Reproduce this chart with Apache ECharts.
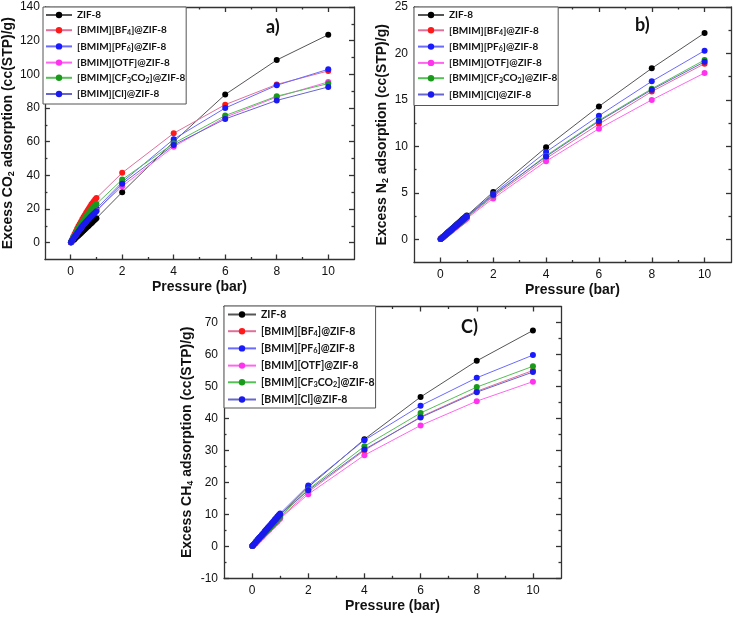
<!DOCTYPE html>
<html><head><meta charset="utf-8">
<script src="https://cdn.jsdelivr.net/npm/echarts@6/dist/echarts.min.js"></script>
<style>html,body{margin:0;padding:0;background:#fff}#c{width:734px;height:620px}</style>
</head><body><div id="c"></div>
<script>
// ---------- data ----------
const pressure = [0.01, 0.05, 0.1, 0.15, 0.2, 0.25, 0.3, 0.35, 0.4, 0.45, 0.5, 0.55, 0.6, 0.65, 0.7, 0.75, 0.8, 0.85, 0.9, 0.95, 1, 2, 4, 6, 8, 10];
const seriesNames = ['ZIF-8', '[BMIM][BF4]@ZIF-8', '[BMIM][PF6]@ZIF-8', '[BMIM][OTF]@ZIF-8', '[BMIM][CF3CO2]@ZIF-8', '[BMIM][Cl]@ZIF-8'];

// CO2
const co2ZIF8   = [0.15, 0.7, 1.4, 2.1, 2.9, 3.6, 4.3, 5.0, 5.8, 6.5, 7.2, 8.0, 8.7, 9.4, 10.1, 10.9, 11.6, 12.3, 13.1, 13.8, 14.5, 30, 60, 88, 108.5, 123.5];
const co2BF4    = [0.4, 1.8, 3.5, 5.1, 6.7, 8.2, 9.7, 11.1, 12.5, 13.9, 15.2, 16.5, 17.8, 19.0, 20.2, 21.4, 22.6, 23.6, 24.6, 25.6, 26.5, 41.5, 65, 82, 94, 102];
const co2PF6    = [0.3, 1.3, 2.6, 3.8, 5.0, 6.1, 7.2, 8.3, 9.4, 10.4, 11.4, 12.4, 13.4, 14.4, 15.3, 16.2, 17.1, 17.9, 18.7, 19.4, 20.1, 36, 61.5, 80, 93.5, 103];
const co2OTF    = [0.3, 1.2, 2.4, 3.6, 4.7, 5.8, 6.9, 7.9, 8.9, 9.9, 10.9, 11.8, 12.7, 13.6, 14.5, 15.4, 16.2, 17.0, 17.7, 18.4, 19.1, 33.5, 57, 74.5, 86.5, 95.5];
const co2CF3CO2 = [0.35, 1.5, 3.0, 4.4, 5.8, 7.1, 8.4, 9.7, 10.9, 12.1, 13.3, 14.4, 15.5, 16.6, 17.6, 18.6, 19.6, 20.5, 21.4, 22.2, 23.0, 37.5, 59, 75.5, 87, 94.5];
const co2Cl     = [0.3, 1.2, 2.3, 3.5, 4.6, 5.6, 6.7, 7.7, 8.7, 9.7, 10.6, 11.5, 12.4, 13.3, 14.1, 14.9, 15.7, 16.5, 17.2, 17.9, 18.6, 35, 58, 73.5, 84.5, 92.5];

// N2
const n2ZIF8   = [0.03, 0.13, 0.26, 0.38, 0.51, 0.64, 0.77, 0.89, 1.02, 1.15, 1.28, 1.40, 1.53, 1.66, 1.79, 1.91, 2.04, 2.17, 2.30, 2.42, 2.55, 5.1, 9.9, 14.3, 18.4, 22.2];
const n2BF4    = [0.02, 0.12, 0.24, 0.35, 0.47, 0.59, 0.71, 0.82, 0.94, 1.06, 1.18, 1.29, 1.41, 1.53, 1.65, 1.76, 1.88, 2.0, 2.12, 2.23, 2.35, 4.6, 8.7, 12.4, 15.9, 18.9];
const n2PF6    = [0.03, 0.13, 0.25, 0.38, 0.5, 0.63, 0.75, 0.88, 1.0, 1.13, 1.25, 1.38, 1.5, 1.63, 1.75, 1.88, 2.0, 2.13, 2.25, 2.38, 2.5, 4.9, 9.4, 13.3, 17.0, 20.3];
const n2OTF    = [0.02, 0.11, 0.23, 0.34, 0.45, 0.56, 0.68, 0.79, 0.9, 1.01, 1.13, 1.24, 1.35, 1.46, 1.58, 1.69, 1.8, 1.91, 2.03, 2.14, 2.25, 4.4, 8.4, 11.9, 15.0, 17.9];
const n2CF3CO2 = [0.02, 0.12, 0.24, 0.36, 0.48, 0.6, 0.72, 0.84, 0.96, 1.08, 1.2, 1.32, 1.44, 1.56, 1.68, 1.8, 1.92, 2.04, 2.16, 2.28, 2.4, 4.7, 9.0, 12.8, 16.2, 19.3];
const n2Cl     = [0.02, 0.12, 0.25, 0.37, 0.49, 0.61, 0.74, 0.86, 0.98, 1.1, 1.23, 1.35, 1.47, 1.59, 1.72, 1.84, 1.96, 2.08, 2.21, 2.33, 2.45, 4.8, 8.9, 12.7, 16.1, 19.1];

// CH4
const ch4ZIF8   = [0.1, 0.5, 1.0, 1.5, 2.0, 2.5, 2.9, 3.4, 3.9, 4.4, 4.9, 5.4, 5.9, 6.4, 6.9, 7.4, 7.8, 8.3, 8.8, 9.3, 9.8, 18.5, 33.5, 46.7, 58, 67.5];
const ch4BF4    = [0.09, 0.45, 0.9, 1.3, 1.8, 2.2, 2.7, 3.1, 3.6, 4.0, 4.5, 4.9, 5.3, 5.8, 6.2, 6.7, 7.1, 7.6, 8.0, 8.5, 8.9, 17.0, 30.0, 40.5, 48.5, 55.0];
const ch4PF6    = [0.1, 0.5, 1.0, 1.6, 2.1, 2.6, 3.1, 3.6, 4.1, 4.7, 5.2, 5.7, 6.2, 6.7, 7.2, 7.7, 8.3, 8.8, 9.3, 9.8, 10.3, 19.0, 33.2, 44.0, 52.7, 59.8];
const ch4OTF    = [0.09, 0.44, 0.87, 1.3, 1.7, 2.2, 2.6, 3.0, 3.5, 3.9, 4.4, 4.8, 5.2, 5.7, 6.1, 6.5, 7.0, 7.4, 7.8, 8.3, 8.7, 16.3, 28.5, 37.8, 45.4, 51.5];
const ch4CF3CO2 = [0.09, 0.47, 0.93, 1.4, 1.9, 2.3, 2.8, 3.3, 3.7, 4.2, 4.7, 5.1, 5.6, 6.0, 6.5, 7.0, 7.4, 7.9, 8.4, 8.8, 9.3, 17.8, 31.3, 41.7, 49.8, 56.3];
const ch4Cl     = [0.1, 0.5, 1.0, 1.5, 2.0, 2.5, 3.0, 3.5, 4.0, 4.5, 5.0, 5.5, 6.0, 6.5, 7.0, 7.5, 8.0, 8.5, 9.0, 9.5, 10.0, 17.5, 30.3, 40.3, 48.2, 54.5];

// tick values
const xTicks = [0, 2, 4, 6, 8, 10];
const xMinor = [1, 3, 5, 7, 9];
const co2Ticks = [0, 20, 40, 60, 80, 100, 120, 140];
const co2Minor = [10, 30, 50, 70, 90, 110, 130];
const n2Ticks = [0, 5, 10, 15, 20, 25];
const n2Minor = [2.5, 7.5, 12.5, 17.5, 22.5];
const ch4Ticks = [-10, 0, 10, 20, 30, 40, 50, 60, 70];
const ch4Minor = [-5, 5, 15, 25, 35, 45, 55, 65];

// ---------- styles ----------
const markerColors = ['#000000', '#ff1a1a', '#1a1aff', '#ff33ee', '#1a9a1a', '#1a1aee'];
const lineColors   = ['#555555', '#e0709a', '#6a6aff', '#ff66ee', '#55c055', '#6666cc'];
const FONT = 'Liberation Sans, Arial, sans-serif';
const LFONT = 'Lato, Liberation Sans, Arial, sans-serif';
const axisColor = '#333';

const panels = [
  { grid: {left: 43, top: 7, width: 311, height: 252.5}, ymin: -10, ymax: 140, ticks: co2Ticks, minor: co2Minor,
    yname: '{b|Excess CO}{s|2}{b| adsorption (cc(STP)/g)}', ynameGap: 26, labelMargin: 5,
    data: [co2ZIF8, co2BF4, co2PF6, co2OTF, co2CF3CO2, co2Cl], lfs: 10,
    legend: {left: 43, top: 7, itemGap: 5.2, padding: [3, 1, 5, 2], itemWidth: 26},
    tag: {text: 'a)', left: 266, top: 18} },
  { grid: {left: 414, top: 7, width: 317, height: 255.5}, ymin: -2.5, ymax: 25, ticks: n2Ticks, minor: n2Minor,
    yname: '{b|Excess N}{s|2}{b| adsorption (cc(STP)/g)}', ynameGap: 24, labelMargin: 6,
    data: [n2ZIF8, n2BF4, n2PF6, n2OTF, n2CF3CO2, n2Cl], lfs: 10,
    legend: {left: 414, top: 7, itemGap: 5.3, padding: [3, 1, 6, 3], itemWidth: 26},
    tag: {text: 'b)', left: 635, top: 16} },
  { grid: {left: 224, top: 306.5, width: 337, height: 271.8}, ymin: -10, ymax: 75, ticks: ch4Ticks, minor: ch4Minor,
    yname: '{b|Excess CH}{s|4}{b| adsorption (cc(STP)/g)}', ynameGap: 29, labelMargin: 6,
    data: [ch4ZIF8, ch4BF4, ch4PF6, ch4OTF, ch4CF3CO2, ch4Cl], lfs: 10.5,
    legend: {left: 224, top: 306, itemGap: 5.7, padding: [3, 1, 3, 3], itemWidth: 28},
    tag: {text: 'C)', left: 461, top: 318} }
];

const lineStyle = {color: axisColor, width: 1.3};
const nameRich = {
  b: {fontSize: 14, fontWeight: 'bold', fontFamily: FONT, color: '#111', lineHeight: 16},
  s: {fontSize: 9, fontWeight: 'bold', fontFamily: FONT, color: '#111', lineHeight: 10, verticalAlign: 'bottom'}
};
function legendRich(fs) {
  return {
    t: {fontSize: fs, fontWeight: 'bold', fontFamily: LFONT, color: '#111', lineHeight: 12},
    s: {fontSize: fs * 0.7, fontWeight: 'bold', fontFamily: LFONT, color: '#111', lineHeight: 8, verticalAlign: 'bottom'}
  };
}
function legendLabel(name) {
  return '{t|' + name.replace(/([A-Z])(\d)(?=[\]A-Z])/g, '$1}{s|$2}{t|') + '}';
}

const grids = [], xAxes = [], yAxes = [], series = [], legends = [], titles = [];
panels.forEach((p, g) => {
  grids.push(p.grid);
  const xb = {type: 'value', gridIndex: g, min: -1, max: 11, splitLine: {show: false}};
  xAxes.push(
    Object.assign({}, xb, {position: 'bottom',
      axisLine: {show: true, onZero: false, lineStyle},
      axisTick: {show: true, inside: true, length: 5, customValues: xTicks, lineStyle},
      axisLabel: {show: true, customValues: xTicks, margin: 6, fontSize: 12, color: '#111', fontFamily: FONT},
      name: 'Pressure (bar)', nameLocation: 'middle', nameGap: 21,
      nameTextStyle: {fontSize: 14, fontWeight: 'bold', fontFamily: FONT, color: '#111'}}),
    Object.assign({}, xb, {position: 'top',
      axisLine: {show: true, onZero: false, lineStyle},
      axisTick: {show: true, inside: true, length: 5, customValues: xTicks, lineStyle},
      axisLabel: {show: false}}),
    Object.assign({}, xb, {position: 'bottom',
      axisLine: {show: false, onZero: false},
      axisTick: {show: true, inside: true, length: 2.5, customValues: xMinor, lineStyle},
      axisLabel: {show: false}}),
    Object.assign({}, xb, {position: 'top',
      axisLine: {show: false, onZero: false},
      axisTick: {show: true, inside: true, length: 2.5, customValues: xMinor, lineStyle},
      axisLabel: {show: false}})
  );
  const yb = {type: 'value', gridIndex: g, min: p.ymin, max: p.ymax, splitLine: {show: false}};
  yAxes.push(
    Object.assign({}, yb, {position: 'left',
      axisLine: {show: true, onZero: false, lineStyle},
      axisTick: {show: true, inside: true, length: 5, customValues: p.ticks, lineStyle},
      axisLabel: {show: true, customValues: p.ticks, margin: p.labelMargin, fontSize: 12, color: '#111', fontFamily: FONT},
      name: p.yname, nameLocation: 'middle', nameGap: p.ynameGap,
      nameTextStyle: {rich: nameRich}}),
    Object.assign({}, yb, {position: 'right',
      axisLine: {show: true, onZero: false, lineStyle},
      axisTick: {show: true, inside: true, length: 5, customValues: p.ticks, lineStyle},
      axisLabel: {show: false}}),
    Object.assign({}, yb, {position: 'left',
      axisLine: {show: false, onZero: false},
      axisTick: {show: true, inside: true, length: 2.5, customValues: p.minor, lineStyle},
      axisLabel: {show: false}}),
    Object.assign({}, yb, {position: 'right',
      axisLine: {show: false, onZero: false},
      axisTick: {show: true, inside: true, length: 2.5, customValues: p.minor, lineStyle},
      axisLabel: {show: false}})
  );
  p.data.forEach((vals, i) => {
    series.push({
      type: 'line', name: seriesNames[i], xAxisIndex: g * 4, yAxisIndex: g * 4,
      data: pressure.map((x, j) => [x, vals[j]]),
      symbol: 'circle', symbolSize: 6, showAllSymbol: true,
      itemStyle: {color: markerColors[i]},
      lineStyle: {color: lineColors[i], width: 1},
      emphasis: {disabled: true}, z: 2 + i
    });
  });
  legends.push(Object.assign({
    orient: 'vertical', data: seriesNames, itemHeight: 8,
    borderColor: '#555', borderWidth: 1, backgroundColor: '#fff',
    formatter: legendLabel, textStyle: {rich: legendRich(p.lfs)}, selectedMode: false
  }, p.legend));
  titles.push({text: p.tag.text, left: p.tag.left, top: p.tag.top, padding: 0,
    textStyle: {fontSize: 18, fontWeight: 'bold', fontFamily: LFONT, color: '#111'}});
});

const chart = echarts.init(document.getElementById('c'), null, {renderer: 'canvas'});
chart.setOption({
  animation: false,
  backgroundColor: '#fff',
  title: titles,
  grid: grids,
  xAxis: xAxes,
  yAxis: yAxes,
  legend: legends,
  series: series
});
</script>
</body></html>
